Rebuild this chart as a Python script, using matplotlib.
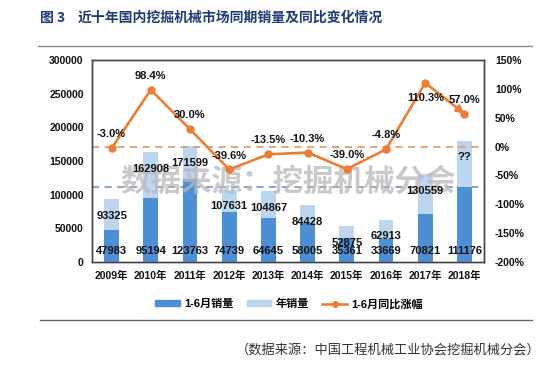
import matplotlib
matplotlib.use("Agg")
import matplotlib.pyplot as plt
from matplotlib.lines import Line2D
from matplotlib.patches import Patch

plt.rcParams['font.family'] = ['Liberation Sans', 'Noto Sans CJK SC', 'DejaVu Sans']

years = ["2009年", "2010年", "2011年", "2012年", "2013年", "2014年", "2015年", "2016年", "2017年", "2018年"]
h1_sales = [47983, 95194, 123763, 74739, 64645, 58005, 35361, 33669, 70821, 111176]
year_sales = [93325, 162908, 171599, 107631, 104867, 84428, 52875, 62913, 130559, 180000]
year_labels = ["93325", "162908", "171599", "107631", "104867", "84428", "52875", "62913", "130559", "??"]
h1_growth = [-3.0, 98.4, 30.0, -39.6, -13.5, -10.3, -39.0, -4.8, 110.3, 57.0]
growth_labels = ["-3.0%", "98.4%", "30.0%", "-39.6%", "-13.5%", "-10.3%", "-39.0%", "-4.8%", "110.3%", "57.0%"]

DARK = "#4d8fd4"
LIGHT = "#bcd6f0"
ORANGE = "#ed7d31"

W, H = 550, 366
fig = plt.figure(figsize=(W / 100, H / 100), dpi=100)

def fx(px):
    return px / W

def fy(py):
    return 1 - py / H

ax = fig.add_axes([fx(92), fy(262), fx(484) - fx(92), fy(60) - fy(262)])
ax2 = ax.twinx()

x = list(range(len(years)))
bw = 0.38
ax.bar(x, year_sales, width=bw, color=LIGHT, zorder=2)
ax.bar(x, h1_sales, width=bw, color=DARK, zorder=3)
ax.set_xlim(-0.5, len(years) - 0.5)
ax.set_ylim(0, 300000)
ax.set_yticks(range(0, 300001, 50000))
ax.set_xticks(x)
ax.set_xticklabels(years)
ax.tick_params(length=0, labelsize=7.5, pad=6)
for lab in ax.get_xticklabels() + ax.get_yticklabels():
    lab.set_fontweight('bold')
    lab.set_color('#111111')

ax2.set_ylim(-200, 150)
ax2.set_yticks(range(-200, 151, 50))
ax2.set_yticklabels([f"{v}%" for v in range(-200, 151, 50)])
ax2.tick_params(length=0, labelsize=7.5, pad=8)
for lab in ax2.get_yticklabels():
    lab.set_fontweight('bold')
    lab.set_color('#111111')

for a in (ax, ax2):
    for s in a.spines.values():
        s.set_color('#444444')
        s.set_linewidth(1.0)

# reference lines
ax.axhline(h1_sales[-1], color="#7f9fc6", lw=1.3, ls=(0, (4, 3)), zorder=1)
ax2.axhline(0, color="#e0a070", lw=1.3, ls=(0, (4, 3)), zorder=1)

# watermark (above bars, below labels)
ax2.text(0.5, 0.40, "数据来源：挖掘机械分会", transform=ax2.transAxes, ha='center', va='center',
         fontsize=22, fontweight='bold', color='#b8b8b8', alpha=0.75, zorder=4,
         family=['Noto Sans CJK SC', 'DejaVu Sans'])

# data labels for bars
for i in x:
    ax2.annotate(year_labels[i], (i, year_sales[i]), xycoords=ax.transData, xytext=(0, -12),
                 textcoords='offset points', ha='center', va='center', fontsize=8,
                 fontweight='bold', color='#111111', zorder=6)
    ax2.annotate(f"{h1_sales[i]}", (i, 0), xycoords=ax.transData, xytext=(0, 8),
                 textcoords='offset points', ha='center', va='center', fontsize=8,
                 fontweight='bold', color='#111111', zorder=6)

# line
ax2.plot(x[:-1], h1_growth[:-1], color=ORANGE, lw=1.9, marker='o', ms=5, zorder=5)
ax2.plot([x[-1]], [h1_growth[-1]], color=ORANGE, marker='o', ms=5, lw=0, zorder=5)
ax2.annotate("", xy=(x[-1], h1_growth[-1]), xytext=(x[-2], h1_growth[-2]),
             arrowprops=dict(arrowstyle='-|>', color=ORANGE, lw=1.9, mutation_scale=11,
                             shrinkA=0, shrinkB=0), zorder=5)

label_below = max(h1_growth)
for i in x:
    off = -11 if h1_growth[i] == label_below else 10
    ax2.annotate(growth_labels[i], (i, h1_growth[i]), xytext=(0, off), textcoords='offset points',
                 ha='center', va='center', fontsize=8, fontweight='bold', color='#111111', zorder=6)

# title
fig.text(fx(40), fy(18), "图 3", ha='left', va='center', fontsize=10, fontweight='bold',
         color='#1f3a78', family=['Noto Sans CJK SC', 'DejaVu Sans'])
fig.text(fx(78), fy(18), "近十年国内挖掘机械市场同期销量及同比变化情况", ha='left', va='center',
         fontsize=10, fontweight='bold', color='#1f3a78', family=['Noto Sans CJK SC', 'DejaVu Sans'])

# frame lines
fig.add_artist(Line2D([fx(38), fx(532)], [fy(46), fy(46)], color='#888888', lw=1.0))
fig.add_artist(Line2D([fx(40), fx(532)], [fy(320), fy(320)], color='#666666', lw=1.0))

# legend
handles = [Patch(color=DARK), Patch(color=LIGHT),
           Line2D([], [], color=ORANGE, lw=1.9, marker='o', ms=4)]
leg = fig.legend(handles, ["1-6月销量", "年销量", "1-6月同比涨幅"], loc='center',
                 bbox_to_anchor=(fx(289), fy(304)), ncol=3, frameon=False,
                 prop={'size': 8, 'weight': 'bold', 'family': ['Liberation Sans', 'Noto Sans CJK SC']},
                 handlelength=2.2, handleheight=0.4, columnspacing=1.2, handletextpad=0.4)

# source
fig.text(fx(541), fy(350), "（数据来源：中国工程机械工业协会挖掘机械分会）", ha='right', va='center',
         fontsize=9.5, color='#333333', family=['Noto Sans CJK SC', 'DejaVu Sans'])

fig.savefig("out.png", dpi=100)
